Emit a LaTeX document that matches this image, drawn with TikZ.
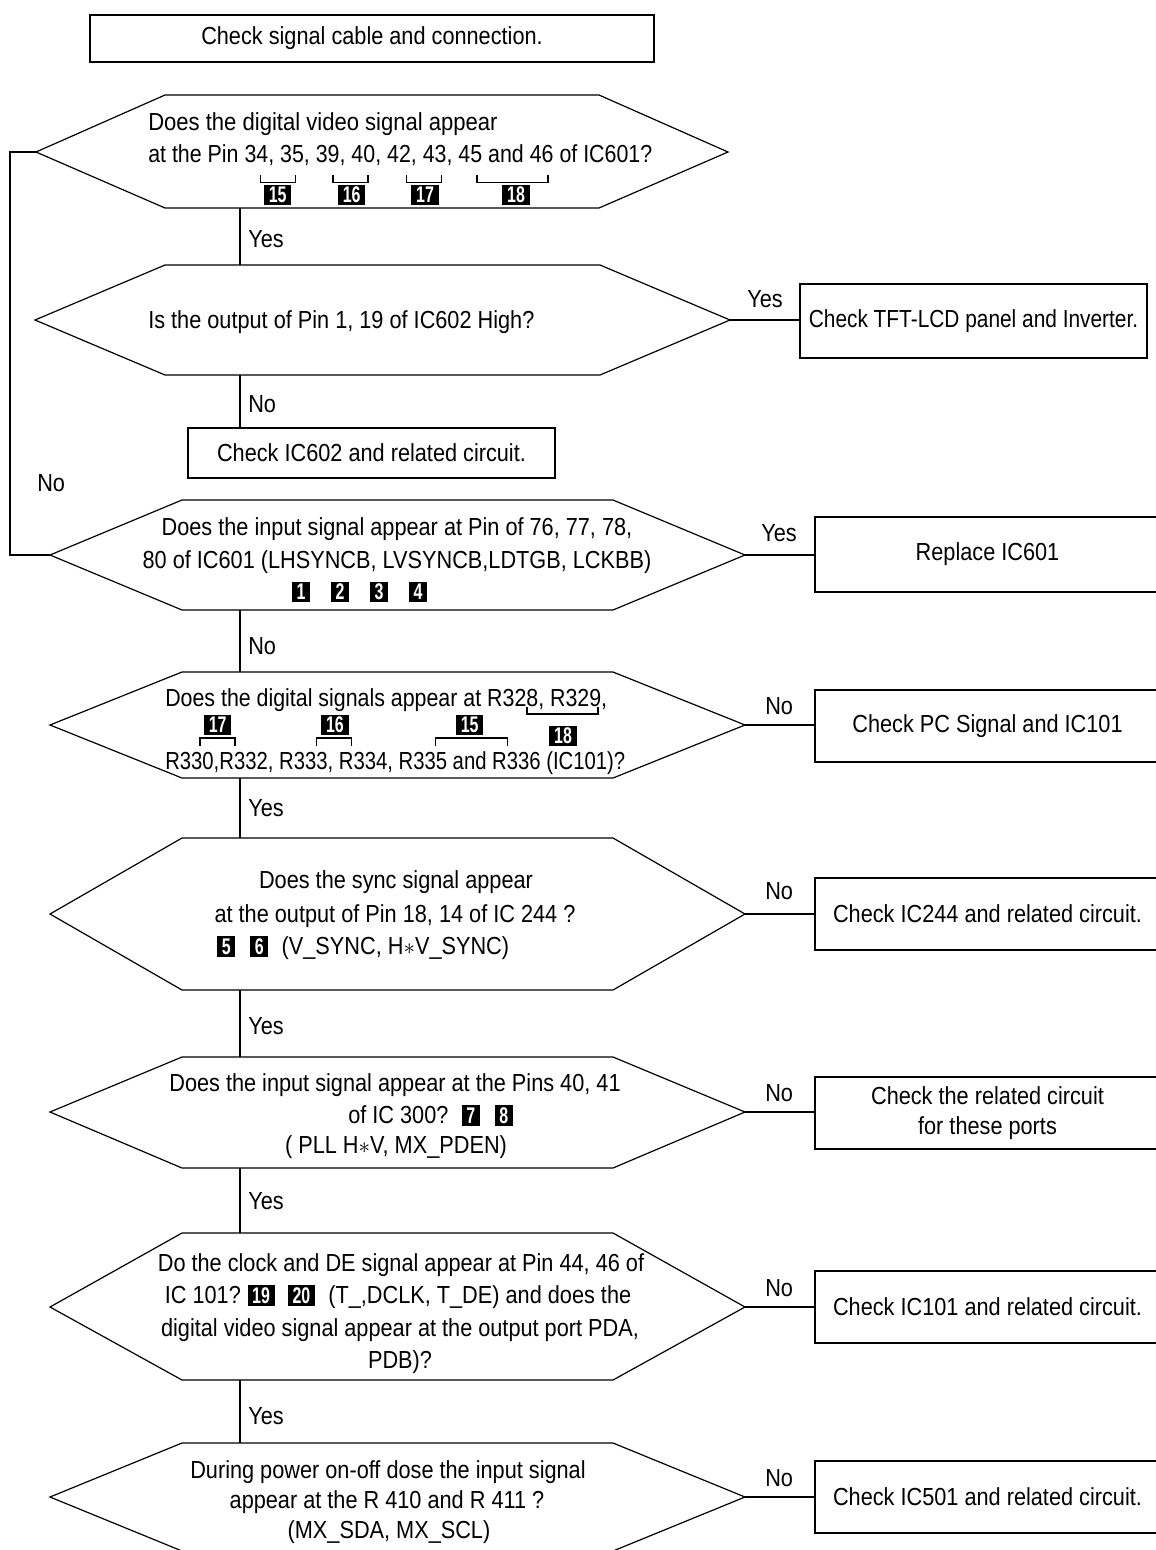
\documentclass[tikz,border=0pt]{standalone}
\usepackage{fontspec}
\usepackage{graphicx}
\setmainfont[FakeStretch=0.88]{Liberation Sans}
\newcommand\bdgfont{\fontsize{17}{17}\selectfont\bfseries}
\newcommand\bdg[1]{{\setlength\fboxsep{0pt}\colorbox{black}{\rule[-2pt]{0pt}{15.2pt}\hspace{3.5pt}\textcolor{white}{\scalebox{0.8}[1]{\bdgfont #1}}\hspace{3.5pt}}}}
\newcommand\fitw[2]{\resizebox{#1}{\height}{#2}}
\begin{document}
\begin{tikzpicture}[x=0.75pt,y=-0.75pt,
  t/.style={inner sep=0pt, font=\fontsize{18.5}{24}\selectfont},
  hexl/.style={draw=black, line width=0.9pt},
  conn/.style={draw=black, line width=0.9pt},
  brk/.style={draw=black, line width=0.8pt},
  box/.style={draw=black, line width=0.9pt, inner sep=0pt, font=\fontsize{18.5}{24}\selectfont, align=center},
  bd/.style={inner sep=0pt}
]
\useasboundingbox (0,0) rectangle (1156,1550);
\clip (0,0) rectangle (1156,1550);

% ---------- boxes ----------
\node[box, minimum width=423pt, minimum height=35.25pt] (b0) at (372,38.5) {Check signal cable and connection.};
\node[box, minimum width=275.25pt, minimum height=37.5pt] (b602) at (371.5,453) {Check IC602 and related circuit.};
\node[box, minimum width=260.25pt, minimum height=55.5pt] (btft) at (973.5,321) {\fitw{247pt}{Check TFT-LCD panel and Inverter.}};
\node[box, minimum width=258.75pt, minimum height=56.25pt] (r3) at (987.5,554.5) {Replace IC601};
\node[box, minimum width=258.75pt, minimum height=54pt] (r4) at (987.5,726) {Check PC Signal and IC101};
\node[box, minimum width=258.75pt, minimum height=54pt] (r5) at (987.5,914) {Check IC244 and related circuit.};
\node[box, minimum width=258.75pt, minimum height=54pt, font=\fontsize{18.5}{23}\selectfont] (r6) at (987.5,1113) {Check the related circuit\\for these ports};
\node[box, minimum width=258.75pt, minimum height=54pt] (r7) at (987.5,1307) {Check IC101 and related circuit.};
\node[box, minimum width=258.75pt, minimum height=54pt] (r8) at (987.5,1497) {Check IC501 and related circuit.};

% ---------- hexagons ----------
\draw[hexl] (36,152) -- (165,95) -- (599,95) -- (728,152) -- (599,208) -- (165,208) -- cycle;
\draw[hexl] (35,320) -- (165,265) -- (600,265) -- (730,320) -- (600,375) -- (165,375) -- cycle;
\draw[hexl] (50,555) -- (182,500) -- (613,500) -- (745,555) -- (613,610) -- (182,610) -- cycle;
\draw[hexl] (50,725) -- (182,672) -- (613,672) -- (745,725) -- (613,778) -- (182,778) -- cycle;
\draw[hexl] (50,914) -- (182,838) -- (613,838) -- (745,914) -- (613,990) -- (182,990) -- cycle;
\draw[hexl] (50,1112) -- (182,1057) -- (613,1057) -- (745,1112) -- (613,1168) -- (182,1168) -- cycle;
\draw[hexl] (50,1307) -- (182,1233) -- (613,1233) -- (745,1307) -- (613,1380) -- (182,1380) -- cycle;
\draw[hexl] (50,1497) -- (182,1443) -- (613,1443) -- (745,1497) -- (613,1551) -- (182,1551) -- cycle;

\coordinate (h1w) at (36,152);  \coordinate (h1s) at (240,208);
\coordinate (h2n) at (240,265); \coordinate (h2e) at (730,320); \coordinate (h2s) at (240,375);
\coordinate (h3w) at (50,555);  \coordinate (h3e) at (745,555); \coordinate (h3s) at (240,610);
\coordinate (h4n) at (240,672); \coordinate (h4e) at (745,725); \coordinate (h4s) at (240,778);
\coordinate (h5n) at (240,838); \coordinate (h5e) at (745,914); \coordinate (h5s) at (240,990);
\coordinate (h6n) at (240,1057); \coordinate (h6e) at (745,1112); \coordinate (h6s) at (240,1168);
\coordinate (h7n) at (240,1233); \coordinate (h7e) at (745,1307); \coordinate (h7s) at (240,1380);
\coordinate (h8n) at (240,1443); \coordinate (h8e) at (745,1497);

% ---------- hex texts ----------
\node[t, anchor=base west] (q1a) at (148,130) {\fitw{262pt}{Does the digital video signal appear}};
\node[t, anchor=base west] (q1b) at (148,162) {\fitw{378pt}{at the Pin 34, 35, 39, 40, 42, 43, 45 and 46 of IC601?}};
\draw[brk] (260.7,175) -- (260.7,182.7) -- (295.7,182.7) -- (295.7,175);
\draw[brk] (333,175) -- (333,182.7) -- (368,182.7) -- (368,175);
\draw[brk] (406.7,175) -- (406.7,182.7) -- (441.7,182.7) -- (441.7,175);
\draw[brk] (477,175) -- (477,182.7) -- (548,182.7) -- (548,175);
\node[bd] (k15a) at (277.7,195) {\bdg{15}};
\node[bd] (k16a) at (351.7,195) {\bdg{16}};
\node[bd] (k17a) at (425,195) {\bdg{17}};
\node[bd] (k18a) at (516,195) {\bdg{18}};

\node[t, anchor=base west] (q2) at (148,328) {Is the output of Pin 1, 19 of IC602 High?};

\node[t, anchor=base] (q3a) at (397,535) {Does the input signal appear at Pin of 76, 77, 78,};
\node[t, anchor=base] (q3b) at (397,568) {80 of IC601 (LHSYNCB, LVSYNCB,LDTGB, LCKBB)};
\node[bd] (k1) at (301,592) {\bdg{1}};
\node[bd] (k2) at (340,592) {\bdg{2}};
\node[bd] (k3) at (379,592) {\bdg{3}};
\node[bd] (k4) at (418,592) {\bdg{4}};

\node[t, anchor=base west] (q4a) at (165,706) {\fitw{331.5pt}{Does the digital signals appear at R328, R329,}};
\node[t, anchor=base west] (q4b) at (165,769) {\fitw{345pt}{R330,R332, R333, R334, R335 and R336 (IC101)?}};
\draw[brk] (527,707) -- (527,714) -- (598,714) -- (598,707);
\node[bd] (k18b) at (563,736) {\bdg{18}};
\draw[brk] (200,746) -- (200,738) -- (235,738) -- (235,746);
\draw[brk] (316.7,746) -- (316.7,738) -- (351.7,738) -- (351.7,746);
\draw[brk] (435.7,746) -- (435.7,738) -- (507.3,738) -- (507.3,746);
\node[bd] (k17b) at (217.7,725) {\bdg{17}};
\node[bd] (k16b) at (335,725) {\bdg{16}};
\node[bd] (k15b) at (469.7,725) {\bdg{15}};

\node[t, anchor=base] (q5a) at (396,888) {Does the sync signal appear};
\node[t, anchor=base] (q5b) at (395,922) {at the output of Pin 18, 14 of IC 244 ?};
\node[t, anchor=base west] (q5c) at (217,954) {\bdg{5}\hspace{11pt}\bdg{6}\hspace{10pt}(V\_SYNC, H$\ast$V\_SYNC)};

\node[t, anchor=base] (q6a) at (395,1091) {Does the input signal appear at the Pins 40, 41};
\node[t, anchor=base west] (q6b) at (348,1123) {of IC 300?\hspace{10pt}\bdg{7}\hspace{11pt}\bdg{8}};
\node[t, anchor=base] (q6c) at (396,1153) {( PLL H$\ast$V, MX\_PDEN)};

\node[t, anchor=base] (q7a) at (401,1271) {Do the clock and DE signal appear at Pin 44, 46 of};
\node[t, anchor=base] (q7b) at (398,1303) {IC 101?\hspace{5pt}\bdg{19}\hspace{10pt}\bdg{20}\hspace{10pt}(T\_,DCLK, T\_DE) and does the};
\node[t, anchor=base] (q7c) at (400,1336) {digital video signal appear at the output port PDA,};
\node[t, anchor=base] (q7d) at (400,1368) {PDB)?};

\node[t, anchor=base] (q8a) at (388,1478) {During power on-off dose the input signal};
\node[t, anchor=base] (q8b) at (387,1508) {appear at the R 410 and R 411 ?};
\node[t, anchor=base] (q8c) at (389,1538) {(MX\_SDA, MX\_SCL)};

% ---------- connectors ----------
\draw[conn] (h1s) -- (h2n);
\draw[conn] (h2s) -- (h2s |- b602.north);
\draw[conn] (h1w) -- ++(-26,0) |- (h3w);
\draw[conn] (h2e) -- (h2e -| btft.west);
\draw[conn] (h3e) -- (h3e -| r3.west);
\draw[conn] (h3s) -- (h4n);
\draw[conn] (h4e) -- (h4e -| r4.west);
\draw[conn] (h4s) -- (h5n);
\draw[conn] (h5e) -- (h5e -| r5.west);
\draw[conn] (h5s) -- (h6n);
\draw[conn] (h6e) -- (h6e -| r6.west);
\draw[conn] (h6s) -- (h7n);
\draw[conn] (h7e) -- (h7e -| r7.west);
\draw[conn] (h7s) -- (h8n);
\draw[conn] (h8e) -- (h8e -| r8.west);

% ---------- labels ----------
\node[t, anchor=base west] (l1) at (248,247) {Yes};
\node[t, anchor=base west] (l2) at (248,412) {No};
\node[t, anchor=base west] (l3) at (37,491) {No};
\node[t, anchor=base west] (l4) at (747,307) {Yes};
\node[t, anchor=base west] (l5) at (761,541) {Yes};
\node[t, anchor=base west] (l6) at (248,654) {No};
\node[t, anchor=base west] (l7) at (765,714) {No};
\node[t, anchor=base west] (l8) at (248,816) {Yes};
\node[t, anchor=base west] (l9) at (765,899) {No};
\node[t, anchor=base west] (l10) at (248,1034) {Yes};
\node[t, anchor=base west] (l11) at (765,1101) {No};
\node[t, anchor=base west] (l12) at (248,1209) {Yes};
\node[t, anchor=base west] (l13) at (765,1296) {No};
\node[t, anchor=base west] (l14) at (248,1424) {Yes};
\node[t, anchor=base west] (l15) at (765,1486) {No};
\end{tikzpicture}
\end{document}
